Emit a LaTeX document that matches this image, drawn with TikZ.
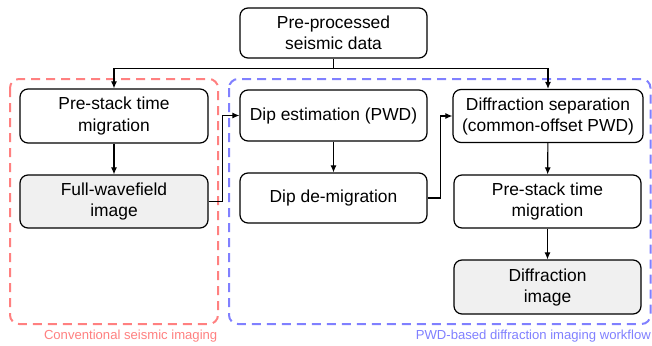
\documentclass[tikz,border=0pt]{standalone}
\usepackage{fontspec}
\setmainfont{Liberation Sans}
\usetikzlibrary{arrows.meta}
\definecolor{redgrp}{HTML}{FF8080}
\definecolor{bluegrp}{HTML}{8080FF}
\definecolor{grayfill}{HTML}{F0F0F0}
\begin{document}
\begin{tikzpicture}[x=1pt,y=-1pt,
  box/.style={draw=black,line width=1.2pt,rounded corners=8pt,align=center,
    font=\fontsize{17.4}{21}\selectfont,inner sep=0pt},
  shaded/.style={box,fill=grayfill},
  arr/.style={line width=1.1pt,-{Latex[length=7pt,width=6pt]}},
  grp/.style={dashed,dash pattern=on 9pt off 6pt,line width=2pt,rounded corners=9pt},
  lbl/.style={font=\fontsize{13.1}{15}\selectfont,inner sep=0pt}]
\useasboundingbox (0,0) rectangle (652,345);
% groups
\draw[grp,draw=redgrp] (10,79) rectangle (218,324);
\draw[grp,draw=bluegrp] (229,79) rectangle (650.5,324);
\node[lbl,text=redgrp,anchor=east] (lred) at (217.5,336) {Conventional seismic imaging};
\node[lbl,text=bluegrp,anchor=east] (lblue) at (651,336) {PWD-based diffraction imaging workflow};
% boxes
\node[box,minimum width=187pt,minimum height=50pt] (top) at (333.5,33) {Pre-processed\\seismic data};
\node[box,minimum width=188pt,minimum height=54pt] (pstm1) at (114,116) {Pre-stack time\\migration};
\node[shaded,minimum width=188pt,minimum height=53pt] (fw) at (114,201.5) {Full-wavefield\\image};
\node[box,minimum width=187pt,minimum height=51pt] (dip) at (333.5,115.5) {Dip estimation (PWD)};
\node[box,minimum width=187pt,minimum height=50pt] (ddm) at (333.5,198) {Dip de-migration};
\node[box,minimum width=190pt,minimum height=53pt] (ds) at (548,116) {Diffraction separation\\(common-offset PWD)};
\node[box,minimum width=187pt,minimum height=53pt] (pstm2) at (547.5,201.5) {Pre-stack time\\migration};
\node[shaded,minimum width=187pt,minimum height=54pt] (di) at (547.5,287) {Diffraction\\image};
% connectors
\draw[line width=1.1pt] (top.south) -- ++(0,10) coordinate (split);
\draw[arr] (split) -| (pstm1.north);
\draw[arr] (split) -| (ds.north);
\draw[arr] (pstm1) -- (fw);
\draw[arr] (fw.east) -- ++(14,0) |- (dip.west);
\draw[arr] (dip) -- (ddm);
\draw[arr] (ddm.east) -- ++(13,0) |- (ds.west);
\draw[arr] (ds) -- (pstm2);
\draw[arr] (pstm2) -- (di);
\end{tikzpicture}
\end{document}
